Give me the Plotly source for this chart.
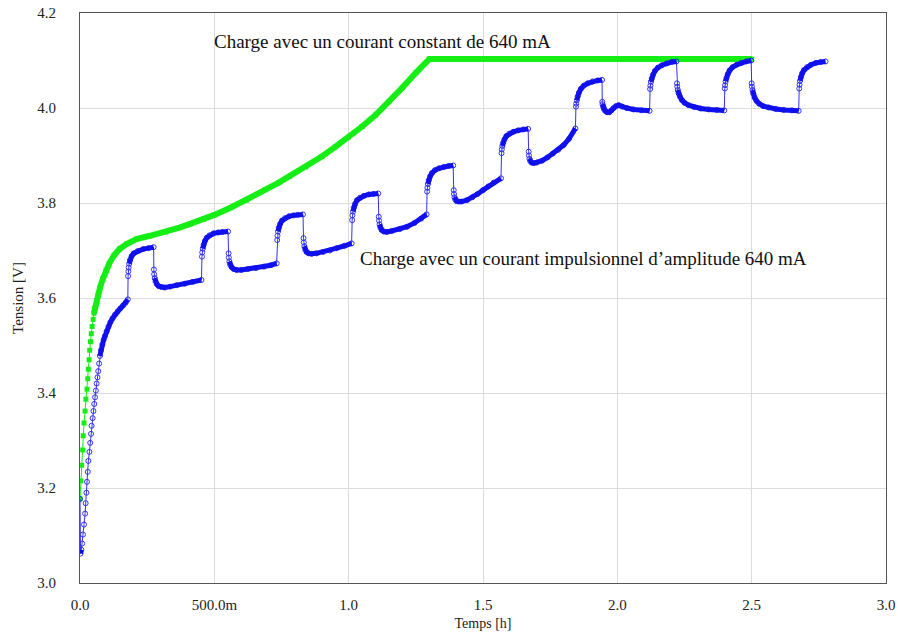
import plotly.graph_objects as go

# ---- data ----
# constant-current charge (green): time [h], voltage [V]
green_t = [0.000, 0.003, 0.006, 0.010, 0.012, 0.015, 0.019, 0.022, 0.026, 0.029,
           0.031, 0.034, 0.036, 0.039, 0.042, 0.045, 0.049, 0.052, 0.056, 0.061,
           0.067, 0.075, 0.085, 0.097, 0.109, 0.127, 0.147, 0.175, 0.210, 0.260,
           0.320, 0.370, 0.410, 0.460, 0.500, 0.560, 0.620, 0.690, 0.740, 0.780,
           0.840, 0.900, 0.950, 1.000, 1.050, 1.100, 1.150, 1.200, 1.250, 1.300,
           1.400, 1.600, 1.800, 2.000, 2.200, 2.400, 2.500]
green_v = [3.177, 3.215, 3.248, 3.280, 3.310, 3.337, 3.362, 3.387, 3.408, 3.430,
           3.450, 3.470, 3.490, 3.508, 3.525, 3.540, 3.555, 3.568, 3.580, 3.594,
           3.606, 3.623, 3.640, 3.658, 3.673, 3.690, 3.703, 3.714, 3.724, 3.731,
           3.739, 3.748, 3.756, 3.766, 3.775, 3.790, 3.806, 3.828, 3.843, 3.856,
           3.876, 3.898, 3.918, 3.939, 3.961, 3.985, 4.013, 4.043, 4.074, 4.103,
           4.103, 4.103, 4.103, 4.103, 4.103, 4.103, 4.103]

# pulsed charge (blue): time [h], voltage [V]
blue_t = [0.000, 0.002, 0.005, 0.008, 0.011, 0.015, 0.019, 0.021, 0.024, 0.026,
          0.029, 0.031, 0.035, 0.038, 0.041, 0.043, 0.047, 0.050, 0.053, 0.056,
          0.059, 0.062, 0.065, 0.068, 0.071, 0.074, 0.078, 0.083, 0.088, 0.093,
          0.099, 0.106, 0.113, 0.121, 0.130, 0.140, 0.150, 0.160, 0.170, 0.178,
          # pulse 1
          0.179, 0.180, 0.181, 0.183, 0.186, 0.192, 0.200, 0.215, 0.235, 0.255, 0.274,
          0.275, 0.276, 0.278, 0.281, 0.286, 0.293, 0.303, 0.315, 0.335, 0.360, 0.390, 0.420, 0.452,
          # pulse 2
          0.454, 0.455, 0.457, 0.460, 0.465, 0.472, 0.482, 0.497, 0.515, 0.530, 0.551,
          0.553, 0.554, 0.556, 0.559, 0.564, 0.572, 0.583, 0.600, 0.625, 0.655, 0.685, 0.710, 0.732,
          # pulse 3
          0.734, 0.735, 0.737, 0.740, 0.745, 0.752, 0.763, 0.778, 0.795, 0.810, 0.830,
          0.832, 0.833, 0.835, 0.838, 0.843, 0.851, 0.862, 0.880, 0.905, 0.930, 0.955, 0.985, 1.011,
          # pulse 4
          1.013, 1.014, 1.016, 1.019, 1.024, 1.031, 1.042, 1.057, 1.075, 1.092, 1.110,
          1.112, 1.113, 1.115, 1.118, 1.123, 1.131, 1.142, 1.160, 1.190, 1.217, 1.245, 1.270, 1.290,
          # pulse 5
          1.292, 1.293, 1.295, 1.298, 1.303, 1.310, 1.321, 1.336, 1.354, 1.372, 1.389,
          1.391, 1.392, 1.394, 1.397, 1.402, 1.410, 1.420, 1.440, 1.460, 1.480, 1.500, 1.520, 1.540, 1.567,
          # pulse 6
          1.569, 1.570, 1.572, 1.575, 1.580, 1.587, 1.598, 1.613, 1.631, 1.650, 1.668,
          1.670, 1.671, 1.673, 1.676, 1.681, 1.689, 1.700, 1.720, 1.740, 1.760, 1.780, 1.800, 1.820, 1.844,
          # pulse 7
          1.846, 1.847, 1.849, 1.852, 1.857, 1.864, 1.875, 1.890, 1.908, 1.927, 1.943,
          1.944, 1.945, 1.947, 1.950, 1.955, 1.962, 1.970, 1.978, 1.986, 1.995, 2.005, 2.018, 2.035, 2.060, 2.090, 2.120,
          # pulse 8
          2.122, 2.123, 2.125, 2.128, 2.133, 2.140, 2.151, 2.166, 2.184, 2.203, 2.220,
          2.222, 2.223, 2.225, 2.228, 2.233, 2.240, 2.250, 2.265, 2.285, 2.310, 2.340, 2.370, 2.398,
          # pulse 9
          2.400, 2.401, 2.403, 2.406, 2.411, 2.418, 2.429, 2.444, 2.462, 2.480, 2.498,
          2.500, 2.501, 2.503, 2.506, 2.511, 2.518, 2.528, 2.543, 2.563, 2.590, 2.620, 2.650, 2.675,
          # pulse 10
          2.677, 2.678, 2.680, 2.683, 2.688, 2.695, 2.706, 2.721, 2.739, 2.757, 2.775]
blue_v = [3.177, 3.062, 3.070, 3.083, 3.102, 3.123, 3.146, 3.168, 3.190, 3.213,
          3.234, 3.257, 3.276, 3.295, 3.314, 3.331, 3.347, 3.362, 3.377, 3.391,
          3.405, 3.420, 3.433, 3.446, 3.462, 3.478, 3.490, 3.502, 3.512, 3.520,
          3.530, 3.540, 3.549, 3.557, 3.565, 3.572, 3.578, 3.584, 3.590, 3.597,
          3.646, 3.656, 3.664, 3.672, 3.680, 3.688, 3.694, 3.699, 3.703, 3.705, 3.707,
          3.660, 3.650, 3.642, 3.635, 3.629, 3.625, 3.623, 3.622, 3.624, 3.627, 3.630, 3.634, 3.638,
          3.687, 3.696, 3.704, 3.712, 3.720, 3.727, 3.732, 3.736, 3.738, 3.739, 3.740,
          3.694, 3.685, 3.677, 3.670, 3.665, 3.661, 3.659, 3.659, 3.661, 3.663, 3.666, 3.669, 3.673,
          3.722, 3.731, 3.740, 3.748, 3.756, 3.763, 3.768, 3.772, 3.774, 3.775, 3.776,
          3.726, 3.717, 3.709, 3.702, 3.697, 3.694, 3.693, 3.694, 3.697, 3.700, 3.705, 3.710, 3.715,
          3.764, 3.774, 3.782, 3.790, 3.798, 3.806, 3.811, 3.815, 3.818, 3.819, 3.820,
          3.771, 3.763, 3.755, 3.748, 3.743, 3.740, 3.739, 3.741, 3.745, 3.750, 3.758, 3.767, 3.776,
          3.824, 3.832, 3.840, 3.848, 3.856, 3.863, 3.869, 3.873, 3.876, 3.878, 3.879,
          3.827, 3.819, 3.812, 3.807, 3.804, 3.803, 3.803, 3.806, 3.812, 3.819, 3.827, 3.835, 3.843, 3.852,
          3.905, 3.913, 3.920, 3.927, 3.934, 3.941, 3.946, 3.950, 3.953, 3.955, 3.956,
          3.908, 3.900, 3.893, 3.888, 3.885, 3.884, 3.885, 3.889, 3.896, 3.904, 3.912, 3.922, 3.935, 3.957,
          4.003, 4.009, 4.016, 4.024, 4.032, 4.040, 4.047, 4.052, 4.056, 4.058, 4.059,
          4.013, 4.008, 4.003, 3.998, 3.994, 3.991, 3.991, 3.995, 4.000, 4.004, 4.006, 4.003, 4.000, 3.997, 3.995, 3.994,
          4.040, 4.047, 4.055, 4.062, 4.070, 4.078, 4.085, 4.090, 4.094, 4.097, 4.098,
          4.052, 4.045, 4.038, 4.031, 4.024, 4.017, 4.011, 4.006, 4.002, 3.999, 3.997, 3.996, 3.995,
          4.041, 4.048, 4.056, 4.063, 4.071, 4.079, 4.086, 4.091, 4.095, 4.098, 4.100,
          4.052, 4.045, 4.038, 4.030, 4.022, 4.015, 4.009, 4.004, 4.001, 3.998, 3.996, 3.995, 3.994,
          4.041, 4.049, 4.057, 4.065, 4.073, 4.080, 4.086, 4.091, 4.095, 4.097, 4.098]

x_tickvals = [0.0, 0.5, 1.0, 1.5, 2.0, 2.5, 3.0]
x_ticktext = ["0.0", "500.0m", "1.0", "1.5", "2.0", "2.5", "3.0"]
y_tickvals = [3.0, 3.2, 3.4, 3.6, 3.8, 4.0, 4.2]
y_ticktext = ["3.0", "3.2", "3.4", "3.6", "3.8", "4.0", "4.2"]

label_const = "Charge avec un courant constant de 640 mA"
label_pulse = "Charge avec un courant impulsionnel d\u2019amplitude 640 mA"

GREEN = "#14ee14"
BLUE = "#1010ee"
SERIF = "Liberation Serif"


def band(ts, vs, max_slope=3.0):
    """Copy of the series with gaps where the curve is steep (fast transients)."""
    bx, by = [], []
    for i in range(len(ts)):
        bx.append(ts[i])
        by.append(vs[i])
        if i + 1 < len(ts):
            dt = ts[i + 1] - ts[i]
            slope = abs(vs[i + 1] - vs[i]) / dt if dt > 0 else 1e9
            if slope > max_slope:
                bx.append(None)
                by.append(None)
    return bx, by


fig = go.Figure()

# green series: thin line + square markers, thick band where sampling is dense
fig.add_trace(go.Scatter(x=green_t, y=green_v, mode="lines+markers",
                         line=dict(color=GREEN, width=1),
                         marker=dict(symbol="square", size=5, color=GREEN),
                         showlegend=False, hoverinfo="skip"))
gbx, gby = band(green_t, green_v)
fig.add_trace(go.Scatter(x=gbx, y=gby, mode="lines", connectgaps=False,
                         line=dict(color=GREEN, width=6),
                         showlegend=False, hoverinfo="skip"))

# blue series: thin line + open circles, thick band where sampling is dense
fig.add_trace(go.Scatter(x=blue_t, y=blue_v, mode="lines+markers",
                         line=dict(color=BLUE, width=1),
                         marker=dict(symbol="circle-open", size=5,
                                     color=BLUE, line=dict(width=1, color=BLUE)),
                         opacity=0.85,
                         showlegend=False, hoverinfo="skip"))
bbx, bby = band(blue_t, blue_v)
fig.add_trace(go.Scatter(x=bbx, y=bby, mode="lines", connectgaps=False,
                         line=dict(color=BLUE, width=5),
                         showlegend=False, hoverinfo="skip"))

fig.add_annotation(x=0.4916, y=4.141, xref="x", yref="y", text=label_const,
                   showarrow=False, xanchor="left", yanchor="middle",
                   font=dict(family=SERIF, size=19, color="#111"))
fig.add_annotation(x=1.035, y=3.684, xref="x", yref="y", text=label_pulse,
                   showarrow=False, xanchor="left", yanchor="middle",
                   font=dict(family=SERIF, size=19, color="#111"))

axis_common = dict(showgrid=True, gridcolor="#dcdcdc", gridwidth=1,
                   showline=True, linecolor="#555", linewidth=1, mirror=True,
                   zeroline=False, ticks="", automargin=False,
                   tickfont=dict(family=SERIF, size=15, color="#222"))

fig.update_layout(
    width=898, height=635,
    font=dict(family=SERIF, color="#222"),
    paper_bgcolor="white", plot_bgcolor="white",
    margin=dict(l=80, r=12, t=13, b=52),
    xaxis=dict(range=[0, 3.0], tickvals=x_tickvals, ticktext=x_ticktext,
               ticklabelstandoff=8,
               title=dict(text="Temps [h]", standoff=6,
                          font=dict(family=SERIF, size=14, color="#222")),
               **axis_common),
    yaxis=dict(range=[3.0, 4.2], tickvals=y_tickvals, ticktext=y_ticktext,
               ticklabelstandoff=20,
               title=dict(text="Tension [V]", standoff=10,
                          font=dict(family=SERIF, size=15, color="#222")),
               **axis_common),
)

fig.write_html("out.html",
               config={"displayModeBar": False},
               post_script="document.body.style.margin='0';document.body.style.padding='0';")
